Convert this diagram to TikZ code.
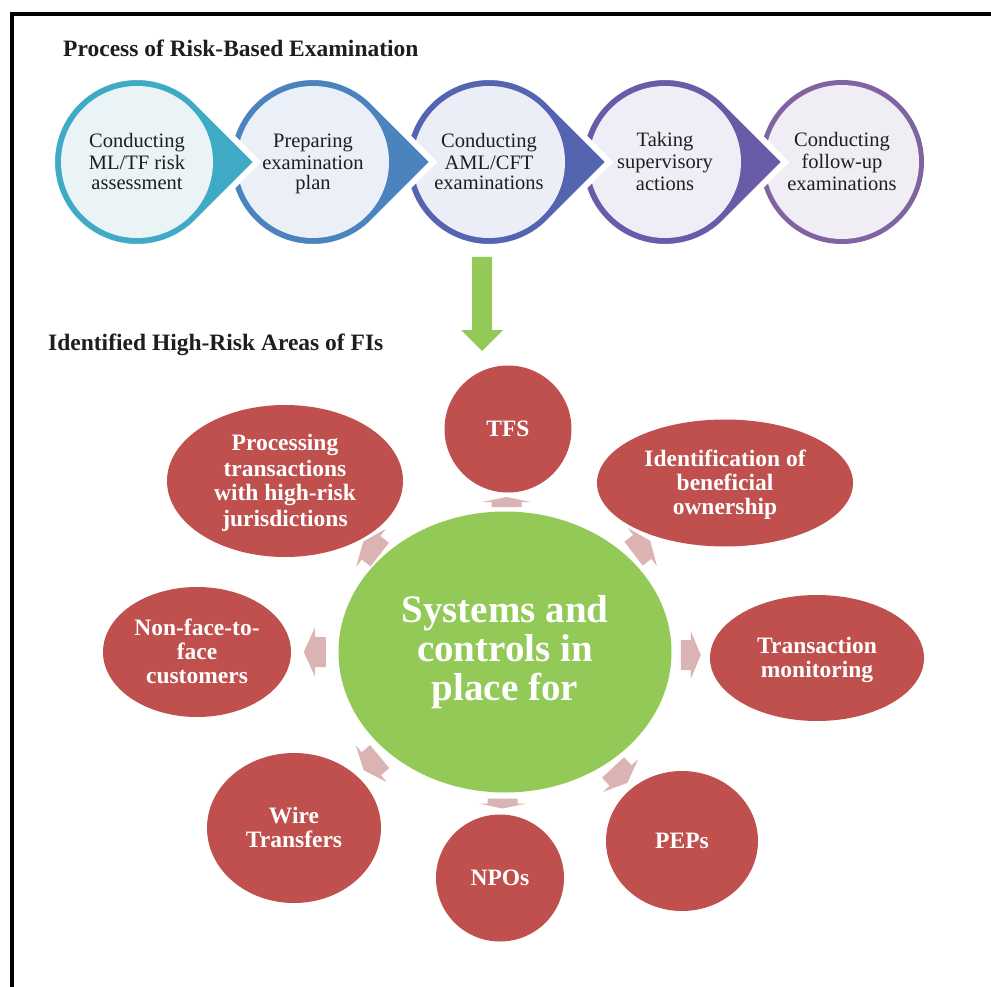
\documentclass[tikz,border=0pt]{standalone}
\usepackage{fontspec}
\setmainfont{Liberation Serif}
\usetikzlibrary{shapes.geometric,calc}
\definecolor{ringA}{HTML}{3FAAC6}
\definecolor{fillA}{HTML}{EAF4F7}
\definecolor{ringB}{HTML}{4A83BD}
\definecolor{fillB}{HTML}{EBF0F8}
\definecolor{ringC}{HTML}{5464B0}
\definecolor{fillC}{HTML}{ECEEF7}
\definecolor{ringD}{HTML}{6A5BA9}
\definecolor{fillD}{HTML}{EFEEF6}
\definecolor{ringE}{HTML}{8064A2}
\definecolor{fillE}{HTML}{F0EEF4}
\definecolor{redc}{HTML}{C0504D}
\definecolor{greenc}{HTML}{92C957}
\definecolor{pinkc}{HTML}{DAB3B2}
\definecolor{inkc}{HTML}{1E1E1E}
\newcommand\rs{\rule[-4.25pt]{0pt}{24pt}}
\newcommand\cs{\rule[-3.5pt]{0pt}{20pt}}
\newcommand\teardrop[4]{%
  \path[fill=#3,draw=white,line width=6pt,line join=miter]
    (#1,#2) ++(45:85) arc[start angle=45,end angle=315,radius=85]
    -- ({#1+120.2},#2) -- cycle;
  \fill[#4] (#1,#2) circle[radius=76];
}
\newcommand\pinkarrow[4]{%
  \begin{scope}[shift={#1},rotate=#2]
    \fill[pinkc] ({-#3/2},-15) -- ({#3/2-#4},-15) -- ({#3/2-#4},-24) -- ({#3/2},0)
      -- ({#3/2-#4},24) -- ({#3/2-#4},15) -- ({-#3/2},15) -- cycle;
  \end{scope}
}
\tikzset{
  circletext/.style={align=center,text=inkc,font=\fontsize{20.5}{20}\selectfont,inner sep=0pt},
  titletext/.style={anchor=base west,text=inkc,font=\bfseries\fontsize{23.5}{24}\selectfont,inner sep=0pt},
  redell/.style={ellipse,fill=redc,text=white,align=center,inner sep=0pt,
    font=\bfseries\fontsize{23.5}{24}\selectfont},
}
\begin{document}
\begin{tikzpicture}[x=1pt,y=1pt]
\useasboundingbox (0,0) rectangle (991,-987);
\fill[white] (0,0) rectangle (991,-987);
% frame
\draw[line width=3.5pt] (12,-987) -- (12,-14) -- (991,-14);
% titles
\node[titletext] (t1) at (63,-57) {Process of Risk-Based Examination};
\node[titletext] (t2) at (48,-350) {Identified High-Risk Areas of FIs};
% process circles (drawn right to left)
\fill[white] (842,-162) circle[radius=85];
\fill[ringE] (842,-162) circle[radius=82];
\fill[fillE] (842,-162) circle[radius=77];
\teardrop{665}{-162}{ringD}{fillD}
\teardrop{489}{-162}{ringC}{fillC}
\teardrop{313}{-162}{ringB}{fillB}
\teardrop{137}{-162}{ringA}{fillA}
\node[circletext] (p1) at (137,-162) {\cs Conducting\\\cs ML/TF risk\\\cs assessment};
\node[circletext] (p2) at (313,-162) {\cs Preparing\\\cs examination\\\cs plan};
\node[circletext] (p3) at (489,-162) {\cs Conducting\\\cs AML/CFT\\\cs examinations};
\node[circletext] (p4) at (665,-162) {\cs Taking\\\cs supervisory\\\cs actions};
\node[circletext] (p5) at (842,-162) {\cs Conducting\\\cs follow-up\\\cs examinations};
% green down arrow
\fill[greenc] (472,-257) -- (492,-257) -- (492,-330) -- (503,-330) -- (482,-351)
  -- (461,-330) -- (472,-330) -- cycle;
% centre
\node[ellipse,fill=greenc,minimum width=333,minimum height=281,inner sep=0pt,
  text=white,align=center,font=\bfseries\fontsize{39}{39}\selectfont] (c) at (505,-652)
  {Systems and\\controls in\\place for};
% satellites
\node[redell,minimum width=127,minimum height=127] (tfs) at (508,-429) {\rs TFS};
\node[redell,minimum width=256,minimum height=127] (ident) at (725,-483) {\rs Identification of\\\rs beneficial\\\rs ownership};
\node[redell,minimum width=214,minimum height=126] (trans) at (817,-658) {\rs Transaction\\\rs monitoring};
\node[redell,minimum width=152,minimum height=140] (peps) at (682,-841) {\rs PEPs};
\node[redell,minimum width=128,minimum height=127] (npos) at (500,-878) {\rs NPOs};
\node[redell,minimum width=174,minimum height=150] (wire) at (294,-828) {\rs Wire\\\rs Transfers};
\node[redell,minimum width=188,minimum height=130] (nonf) at (197,-652) {\rs Non-face-to-\\\rs face\\\rs customers};
\node[redell,minimum width=236,minimum height=152] (proc) at (285,-481) {\rs Processing\\\rs transactions\\\rs with high-risk\\\rs jurisdictions};
% pink arrows
\pinkarrow{($(c.north)!0.5!(tfs.south)$)}{90}{10}{5}
\pinkarrow{($(c.37.5)!0.5!(ident.217.5)$)}{37.5}{21}{10}
\pinkarrow{($(c.east)!0.5!(trans.west)$)}{0}{20}{10}
\pinkarrow{($(c.-47)!0.5!(peps.133)$)}{-47}{21}{10}
\pinkarrow{($(c.south)!0.5!(npos.north)$)}{-90}{10}{5}
\pinkarrow{($(c.220)!0.5!(wire.40)$)}{220}{21}{10}
\pinkarrow{($(c.west)!0.5!(nonf.east)$)}{180}{22}{11}
\pinkarrow{($(c.142)!0.5!(proc.-38)$)}{142}{21}{10}
\end{tikzpicture}
\end{document}
